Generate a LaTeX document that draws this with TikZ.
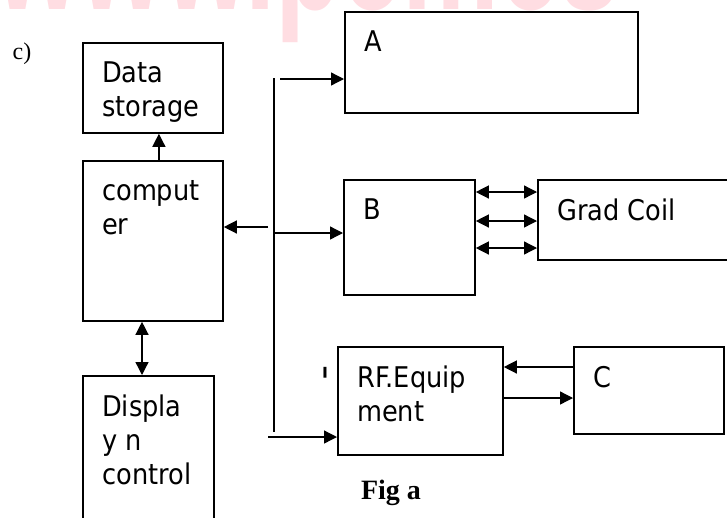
\documentclass[tikz,border=0pt]{standalone}
\usepackage{fontspec}
\usetikzlibrary{arrows.meta}
\newfontfamily\boxfont[FakeStretch=0.9]{DejaVu Sans}
\newfontfamily\figfont{Liberation Serif}
\newfontfamily\wmfont[FakeStretch=0.68]{Liberation Sans}
\definecolor{wmpink}{RGB}{255,221,226}

\begin{document}
\begin{tikzpicture}[x=1pt,y=-1pt,
    box/.style={draw,line width=1.8pt,inner sep=0pt,anchor=north west},
    boxtext/.style={anchor=north west,inner sep=0pt,align=left,xshift=20pt,yshift=-20pt,
      font=\boxfont\fontsize{28.5}{34}\selectfont},
    wire/.style={line width=1.3pt},
    link/.style={wire,-{Triangle[length=13pt,width=13pt]}},
    twoway/.style={wire,{Triangle[length=13pt,width=13pt]}-{Triangle[length=13pt,width=13pt]}}]
\useasboundingbox (0,0) rectangle (727,517);
% watermark, cut at the top
\begin{scope}
\clip (0,0) rectangle (727,46);
\node[anchor=south west,inner sep=0pt,text=wmpink,
  font=\wmfont\bfseries\fontsize{160}{160}\selectfont] (wm) at (-5,43) {www.pcmcs};
\end{scope}
\node[font=\figfont\fontsize{24}{24}\selectfont,inner sep=0pt] (part) at (22,54) {c)};
% left column
\node[box,minimum width=140,minimum height=90] (store) at (82,42) {};
\node[box,minimum width=140,minimum height=160] (comp) at (82,160) {};
\node[box,minimum width=131,minimum height=150] (disp) at (82,375) {};
\node[boxtext] (storetext) at (store.north west) {Data\\storage};
\node[boxtext] (comptext) at (comp.north west) {comput\\er};
\node[boxtext] (disptext) at (disp.north west) {Displa\\y n\\control};
% right column
\node[box,minimum width=293,minimum height=101] (unitA) at (344,11) {};
\node[box,minimum width=131,minimum height=115] (unitB) at (343,179) {};
\node[box,minimum width=200,minimum height=80] (coil) at (537,179) {};
\node[box,minimum width=165,minimum height=108] (rf) at (337,346) {};
\node[box,minimum width=150,minimum height=87] (unitC) at (573,346) {};
\node[boxtext] (Atext) at (unitA.north west) {A};
\node[boxtext] (Btext) at (unitB.north west) {B};
\node[boxtext] (coiltext) at (coil.north west) {Grad Coil};
\node[boxtext] (rftext) at (rf.north west) {RF.Equip\\ment};
\node[boxtext] (Ctext) at (unitC.north west) {C};
\node[anchor=north,inner sep=0pt,font=\boxfont\fontsize{40}{40}\selectfont] (tick) at (326,367) {\textquotesingle};
\node[anchor=base,inner sep=0pt,font=\figfont\bfseries\fontsize{28}{28}\selectfont] (caption) at (391,499) {Fig a};
% bus
\coordinate (bustop) at (274,78);
\coordinate (busend) at (274,432);
\coordinate (tapA) at (280,79);
\coordinate (tapC) at (268,227);
\coordinate (tapB) at (274,233);
\coordinate (tapRF) at (268,437);
\draw[wire] (bustop) -- (busend);
\draw[link] (tapA) -- (tapA -| unitA.west);
\draw[link] (tapC) -- (tapC -| comp.east);
\draw[link] (tapB) -- (tapB -| unitB.west);
\draw[link] (tapRF) -- (tapRF -| rf.west);
% links
\draw[link] ([xshift=6pt]comp.north) -- ([xshift=6pt]store.south);
\draw[twoway] (comp.south -| 142,0) -- (disp.north -| 142,0);
\foreach \y in {192,221,248}
  \draw[twoway] (unitB.east |- 0,\y) -- (coil.west |- 0,\y);
\draw[link] (unitC.west |- 0,367) -- (rf.east |- 0,367);
\draw[link] (rf.east |- 0,398) -- (unitC.west |- 0,398);
\end{tikzpicture}
\end{document}
